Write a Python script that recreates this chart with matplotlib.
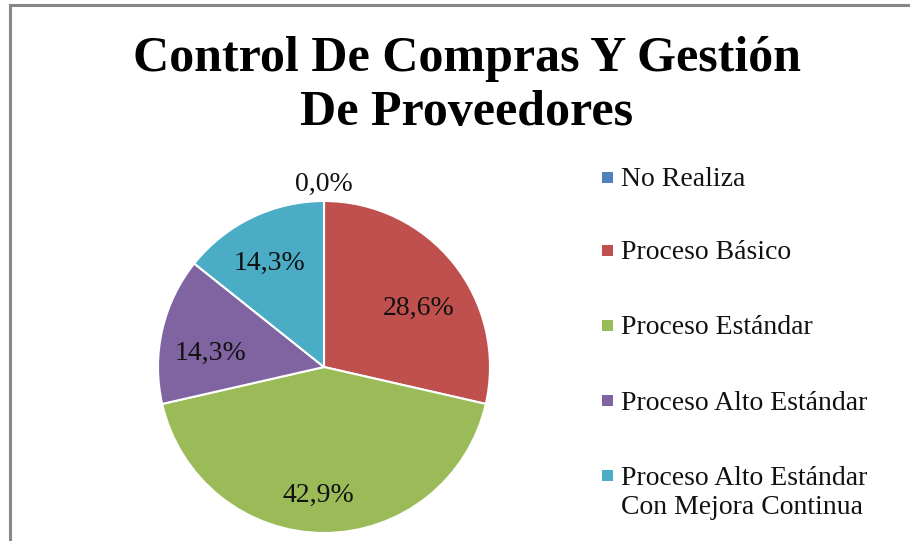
import matplotlib.pyplot as plt
import numpy as np
from matplotlib.lines import Line2D
from matplotlib.patches import Rectangle
from matplotlib.transforms import offset_copy

# Porcentaje de empresas por nivel de proceso
categorias = ['No Realiza', 'Proceso Básico', 'Proceso Estándar',
              'Proceso Alto Estándar', 'Proceso Alto Estándar\nCon Mejora Continua']
valores = [0.0, 28.6, 42.9, 14.3, 14.3]
etiquetas = ['0,0%', '28,6%', '42,9%', '14,3%', '14,3%']
colores = ['#4F81BD', '#C0504D', '#9BBB59', '#8064A2', '#4BACC6']

titulo = 'Control De Compras Y Gestión\nDe Proveedores'

W, H = 910, 541
fig = plt.figure(figsize=(W / 100, H / 100), dpi=100)
fig.patch.set_facecolor('white')

# marco gris (arriba e izquierda)
fig.add_artist(Line2D([9.5 / W, 9.5 / W], [0, 1 - 4.5 / H], color='#878787', lw=2.2))
fig.add_artist(Line2D([9.5 / W, 1], [1 - 4.5 / H, 1 - 4.5 / H], color='#878787', lw=2.2))

fig.text(467 / W, 1 - 86 / H, titulo, ha='center', va='center',
         family='Liberation Serif', weight='bold',
         fontsize=36, linespacing=1.22)

# pastel
r = 166
cx, cy = 324, 367
ax = fig.add_axes([(cx - r) / W, 1 - (cy + r) / H, 2 * r / W, 2 * r / H])
ax.pie(valores, colors=colores, startangle=90, counterclock=False,
       wedgeprops=dict(edgecolor='white', linewidth=1.5))
ax.set_xlim(-1, 1)
ax.set_ylim(-1, 1)
ax.set_aspect('equal')

fuente = dict(family='Liberation Serif', fontsize=20, color='#111111')

# etiquetas de porcentaje: distancia al centro y giro respecto a la bisectriz
dist = [1.127, 0.687, 0.748, 0.695, 0.727]
giro = [0.0, -5.0, -2.6, 4.0, 1.0]
trans = offset_copy(ax.transData, fig=fig, x=0, y=-4, units='dots')
total = sum(valores)
ang = 90
for i, v in enumerate(valores):
    frac = v / total * 360
    mid = np.deg2rad(ang - frac / 2 + giro[i])
    ang -= frac
    ax.text(dist[i] * np.cos(mid), dist[i] * np.sin(mid), etiquetas[i],
            ha='center', va='center', transform=trans, **fuente)

# leyenda
ys = [180, 253, 328, 403, 493]
marcas = [177, 250, 325, 400, 475]
for i, nombre in enumerate(categorias):
    fig.add_artist(Rectangle((602 / W, 1 - (marcas[i] + 6) / H), 11 / W, 11 / H,
                             facecolor=colores[i], edgecolor='none'))
    fig.text(621 / W, 1 - ys[i] / H, nombre, ha='left', va='center',
             linespacing=1.2, **fuente)

fig.savefig('out.png', dpi=100)
